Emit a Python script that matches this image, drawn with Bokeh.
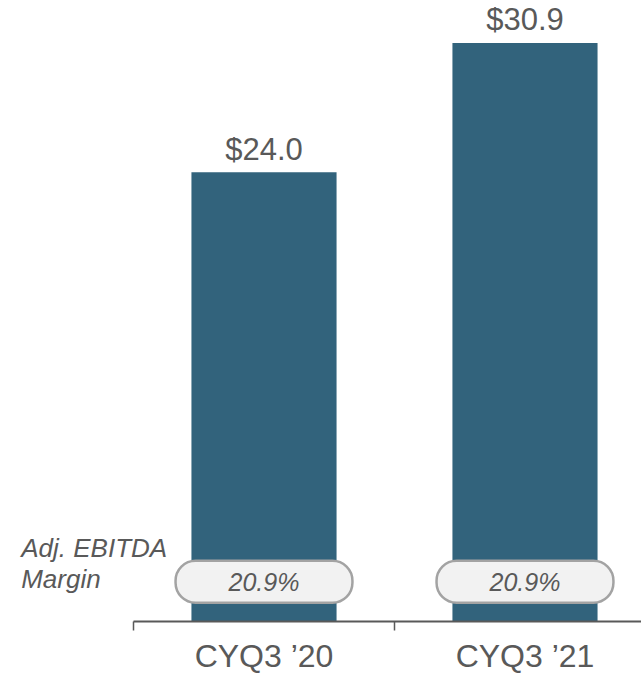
from bokeh.plotting import figure
from bokeh.models import Range1d, FixedTicker, ColumnDataSource, Label
from bokeh.core.properties import value
from bokeh.embed import file_html
from bokeh.resources import INLINE

# ---- data ----
categories = ["CYQ3 \u201920", "CYQ3 \u201921"]
ebitda = [24.0, 30.9]
margins = ["20.9%", "20.9%"]

BAR = "#32637c"
GRAY = "#595959"
FONT = "Liberation Sans"

xpos = [i + 0.5 for i in range(len(categories))]
src = ColumnDataSource(dict(
    x=xpos,
    top=ebitda,
    vlabel=["${:.1f}".format(v) for v in ebitda],
    margin=margins,
    my=[2.12] * len(categories),
))

p = figure(width=641, height=676, output_backend="svg", toolbar_location=None,
           x_range=Range1d(-0.5096, 1.9464), y_range=Range1d(0, 33.17),
           min_border_left=0, min_border_right=0, min_border_top=0,
           min_border_bottom=54)
p.outline_line_color = None
p.grid.visible = False
p.yaxis.visible = False
p.background_fill_color = "white"
p.border_fill_color = "white"

p.vbar(x="x", top="top", bottom=0, width=0.556, source=src,
       fill_color=BAR, line_color=None)

p.text(x="x", y="top", text="vlabel", source=src, y_offset=-23,
       text_align="center", text_baseline="alphabetic",
       text_font=value(FONT), text_font_size="31px", text_color=GRAY)

p.text(x="x", y="my", text="margin", source=src,
       text_align="center", text_baseline="middle",
       text_font=value(FONT), text_font_size="25px", text_font_style="italic",
       text_color=GRAY,
       background_fill_color="#f2f2f2",
       border_line_color="#a3a3a3", border_line_width=2.5,
       border_radius=20,
       padding=dict(left=53, right=53, top=7, bottom=7))

p.add_layout(Label(x=-0.4303, y=3.92, text="Adj. EBITDA", text_align="left",
                   text_baseline="alphabetic", text_font=FONT,
                   text_font_size="26px", text_font_style="italic",
                   text_color=GRAY))
p.add_layout(Label(x=-0.4303, y=2.27, text="Margin", text_align="left",
                   text_baseline="alphabetic", text_font=FONT,
                   text_font_size="26px", text_font_style="italic",
                   text_color=GRAY))

ax = p.xaxis[0]
ax.ticker = FixedTicker(ticks=xpos, minor_ticks=list(range(len(categories) + 1)))
ax.major_label_overrides = {x: c for x, c in zip(xpos, categories)}
ax.bounds = (0, len(categories))
ax.axis_line_color = GRAY
ax.axis_line_width = 2
ax.major_tick_line_color = None
ax.major_tick_out = 0
ax.major_tick_in = 0
ax.minor_tick_line_color = GRAY
ax.minor_tick_line_width = 1.5
ax.minor_tick_out = 9
ax.minor_tick_in = 0
ax.major_label_standoff = 7
ax.major_label_text_font = FONT
ax.major_label_text_font_size = "32px"
ax.major_label_text_color = GRAY

open("out.html", "w").write(file_html(p, INLINE))
